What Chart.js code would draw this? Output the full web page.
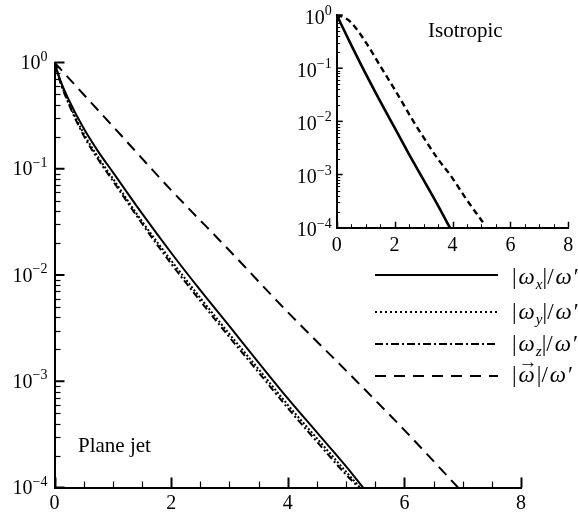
<!DOCTYPE html>
<html>
<head>
<meta charset="utf-8">
<script src="https://cdn.jsdelivr.net/npm/chart.js@4/dist/chart.umd.min.js"></script>
<style>
  html, body { margin: 0; padding: 0; background: #fff; }
  #wrap { position: relative; width: 578px; height: 513px; overflow: hidden;
          font-family: "Liberation Serif", "Times New Roman", serif; color: #000; }
  #mainChart { position: absolute; left: 0; top: 0; }
  #insetChart { position: absolute; left: 280px; top: 0; }
  .note { position: absolute; font-size: 21px; line-height: 21px; white-space: nowrap; }
  .leg { position: absolute; left: 512px; font-size: 23px; line-height: 23px; white-space: nowrap; }
  .leg i { margin: 0 2px; }
  .leg sub { font-size: 15px; font-style: italic; vertical-align: baseline; position: relative; top: 5px; margin-left: -1px; }
  .vec { position: relative; display: inline-block; }
  .vec .arr { position: absolute; left: 2px; top: -13px; font-size: 19px; }
</style>
</head>
<body>
<div id="wrap">
  <canvas id="mainChart" width="578" height="513"></canvas>
  <canvas id="insetChart" width="298" height="260"></canvas>
  <div class="note" style="left:78px; top:435px;">Plane jet</div>
  <div class="note" style="left:428px; top:20px;">Isotropic</div>
  <div class="leg" style="top:265px;">|<i>ω</i><sub>x</sub>|/<i>ω</i>′</div>
  <div class="leg" style="top:300px;">|<i>ω</i><sub>y</sub>|/<i>ω</i>′</div>
  <div class="leg" style="top:332px;">|<i>ω</i><sub>z</sub>|/<i>ω</i>′</div>
  <div class="leg" style="top:363px;">|<span class="vec"><i>ω</i><span class="arr">→</span></span>|/<i>ω</i>′</div>
</div>
<script>
// plane jet (main plot)
const jetWxX = [0, 0.1, 0.25, 0.5, 0.75, 1, 1.5, 2, 2.5, 3, 3.5, 4, 4.5, 5, 5.29];
const jetWx  = [1, 0.68, 0.44, 0.24, 0.145, 0.093, 0.038, 0.0162, 0.0072, 0.0033, 0.0015, 0.00069, 0.00033, 0.000158, 0.0001];
const jetWyX = [0, 0.1, 0.25, 0.5, 0.75, 1, 1.5, 2, 2.5, 3, 3.5, 4, 4.5, 5, 5.24];
const jetWy  = [1, 0.66, 0.41, 0.215, 0.128, 0.081, 0.032, 0.0137, 0.0061, 0.00278, 0.0013, 0.0006, 0.00029, 0.000141, 0.0001];
const jetWzX = [0, 0.1, 0.25, 0.5, 0.75, 1, 1.5, 2, 2.5, 3, 3.5, 4, 4.5, 5, 5.22];
const jetWz  = [1, 0.65, 0.4, 0.205, 0.122, 0.077, 0.0305, 0.0128, 0.0057, 0.0026, 0.00121, 0.00056, 0.00027, 0.000132, 0.0001];
const jetWX  = [0, 0.5, 1, 2, 3, 4, 5, 6, 6.92];
const jetW   = [1, 0.5, 0.251, 0.063, 0.017, 0.00447, 0.00126, 0.000347, 0.0001];

// isotropic (inset)
const isoWcX = [0, 0.5, 1, 1.5, 2, 2.5, 3, 3.5, 3.91];
const isoWc  = [1, 0.275, 0.079, 0.024, 0.0076, 0.0024, 0.00079, 0.00026, 0.0001];
const isoWX  = [0, 0.25, 0.5, 1, 1.55, 2, 2.65, 3, 3.5, 3.91, 4.5, 5.12];
const isoW   = [1, 0.9, 0.72, 0.31, 0.1, 0.04, 0.01, 0.005, 0.00195, 0.001, 0.00033, 0.000112];

// axes
const xTickValues = [0, 2, 4, 6, 8];
const xMinorStep = 0.5;
const yTickExps = [0, -1, -2, -3, -4];

const serif = '"Liberation Serif", "Times New Roman", serif';

function pts(xs, ys) {
  return xs.map((x, i) => ({ x: x, y: ys[i] }));
}

function line(data, dash, width) {
  return {
    data: data,
    borderColor: "#000",
    borderWidth: width,
    borderDash: dash,
    borderCapStyle: "butt",
    pointRadius: 0,
    fill: false,
    cubicInterpolationMode: "monotone"
  };
}

// inward ticks and 10^n labels
const sciAxes = {
  id: "sciAxes",
  afterDraw(chart, args, o) {
    const ctx = chart.ctx;
    const xs = chart.scales.x;
    const ys = chart.scales.y;
    const a = chart.chartArea;
    ctx.save();
    ctx.strokeStyle = "#000";

    for (let v = 0; v <= 8 + 1e-9; v += xMinorStep) {
      const px = Math.round(xs.getPixelForValue(v)) + 0.5;
      const major = xTickValues.includes(v);
      ctx.lineWidth = major ? o.majorWidth : o.minorWidth;
      ctx.beginPath();
      ctx.moveTo(px, a.bottom);
      ctx.lineTo(px, a.bottom - (major ? o.major : o.minor));
      ctx.stroke();
    }

    yTickExps.forEach(e => {
      const py = ys.getPixelForValue(Math.pow(10, e));
      ctx.lineWidth = o.majorWidth;
      ctx.beginPath();
      ctx.moveTo(a.left, py);
      ctx.lineTo(a.left + o.major, py);
      ctx.stroke();
      if (e > -4) {
        for (let m = 2; m <= 9; m++) {
          const pm = Math.round(ys.getPixelForValue(m * Math.pow(10, e - 1))) + 0.5;
          ctx.lineWidth = o.minorWidth;
          ctx.beginPath();
          ctx.moveTo(a.left, pm);
          ctx.lineTo(a.left + o.minor, pm);
          ctx.stroke();
        }
      }
    });

    ctx.fillStyle = "#000";
    ctx.textAlign = "center";
    ctx.textBaseline = "middle";
    ctx.font = o.size + "px " + serif;
    xTickValues.forEach(v => {
      ctx.fillText(String(v), xs.getPixelForValue(v), a.bottom + o.xGap);
    });

    ctx.textAlign = "left";
    ctx.textBaseline = "alphabetic";
    yTickExps.forEach(e => {
      const py = ys.getPixelForValue(Math.pow(10, e)) + o.yShift;
      const sup = e === 0 ? "0" : "\u2212" + (-e);
      ctx.font = o.supSize + "px " + serif;
      const ws = ctx.measureText(sup).width;
      ctx.font = o.size + "px " + serif;
      const wb = ctx.measureText("10").width;
      const right = a.left - o.yGap;
      ctx.fillText("10", right - ws - wb, py + o.size * 0.33);
      ctx.font = o.supSize + "px " + serif;
      ctx.fillText(sup, right - ws, py - o.size * 0.1);
    });
    ctx.restore();
  }
};

// legend samples for the main plot
const legendLines = {
  id: "legendLines",
  afterDraw(chart) {
    const ctx = chart.ctx;
    const rows = [
      { y: 275, dash: [] },
      { y: 312, dash: [2, 3] },
      { y: 344, dash: [8, 3, 2, 3] },
      { y: 376, dash: [11, 8] }
    ];
    ctx.save();
    ctx.strokeStyle = "#000";
    ctx.lineWidth = 2;
    rows.forEach(r => {
      ctx.setLineDash(r.dash);
      ctx.beginPath();
      ctx.moveTo(375, r.y);
      ctx.lineTo(498, r.y);
      ctx.stroke();
    });
    ctx.restore();
  }
};

function axisOpts(type, min, max) {
  return {
    type: type,
    min: min,
    max: max,
    ticks: { display: false },
    grid: { display: true, drawOnChartArea: false, drawTicks: false },
    border: { display: true, color: "#000", width: 2 },
    afterFit: s => { if (s.isHorizontal()) s.height = 0; else s.width = 0; }
  };
}

new Chart(document.getElementById("mainChart"), {
  type: "line",
  data: {
    datasets: [
      line(pts(jetWxX, jetWx), [], 2),
      line(pts(jetWyX, jetWy), [2, 2], 2),
      line(pts(jetWzX, jetWz), [7, 3, 2, 3], 2),
      line(pts(jetWX, jetW), [11, 7], 2)
    ]
  },
  options: {
    responsive: false,
    animation: false,
    layout: { padding: { left: 54.5, right: 57, top: 62.5, bottom: 25.5 } },
    plugins: {
      legend: { display: false },
      tooltip: { enabled: false },
      sciAxes: { major: 10, minor: 6, majorWidth: 2, minorWidth: 1.2, size: 20, supSize: 14, xGap: 16, yGap: 7, yShift: 0 }
    },
    scales: {
      x: axisOpts("linear", 0, 8),
      y: axisOpts("logarithmic", 0.0001, 1)
    }
  },
  plugins: [sciAxes, legendLines]
});

new Chart(document.getElementById("insetChart"), {
  type: "line",
  data: {
    datasets: [
      line(pts(isoWcX, isoWc), [], 2.6),
      line(pts(isoWX, isoW), [6, 4], 2.4)
    ]
  },
  options: {
    responsive: false,
    animation: false,
    layout: { padding: { left: 56.7, right: 9.7, top: 15, bottom: 32.3 } },
    plugins: {
      legend: { display: false },
      tooltip: { enabled: false },
      sciAxes: { major: 6, minor: 3.5, majorWidth: 1.5, minorWidth: 1, size: 20, supSize: 14, xGap: 18, yGap: 5, yShift: 2 }
    },
    scales: {
      x: axisOpts("linear", 0, 8),
      y: axisOpts("logarithmic", 0.0001, 1)
    }
  },
  plugins: [sciAxes]
});
</script>
</body>
</html>
